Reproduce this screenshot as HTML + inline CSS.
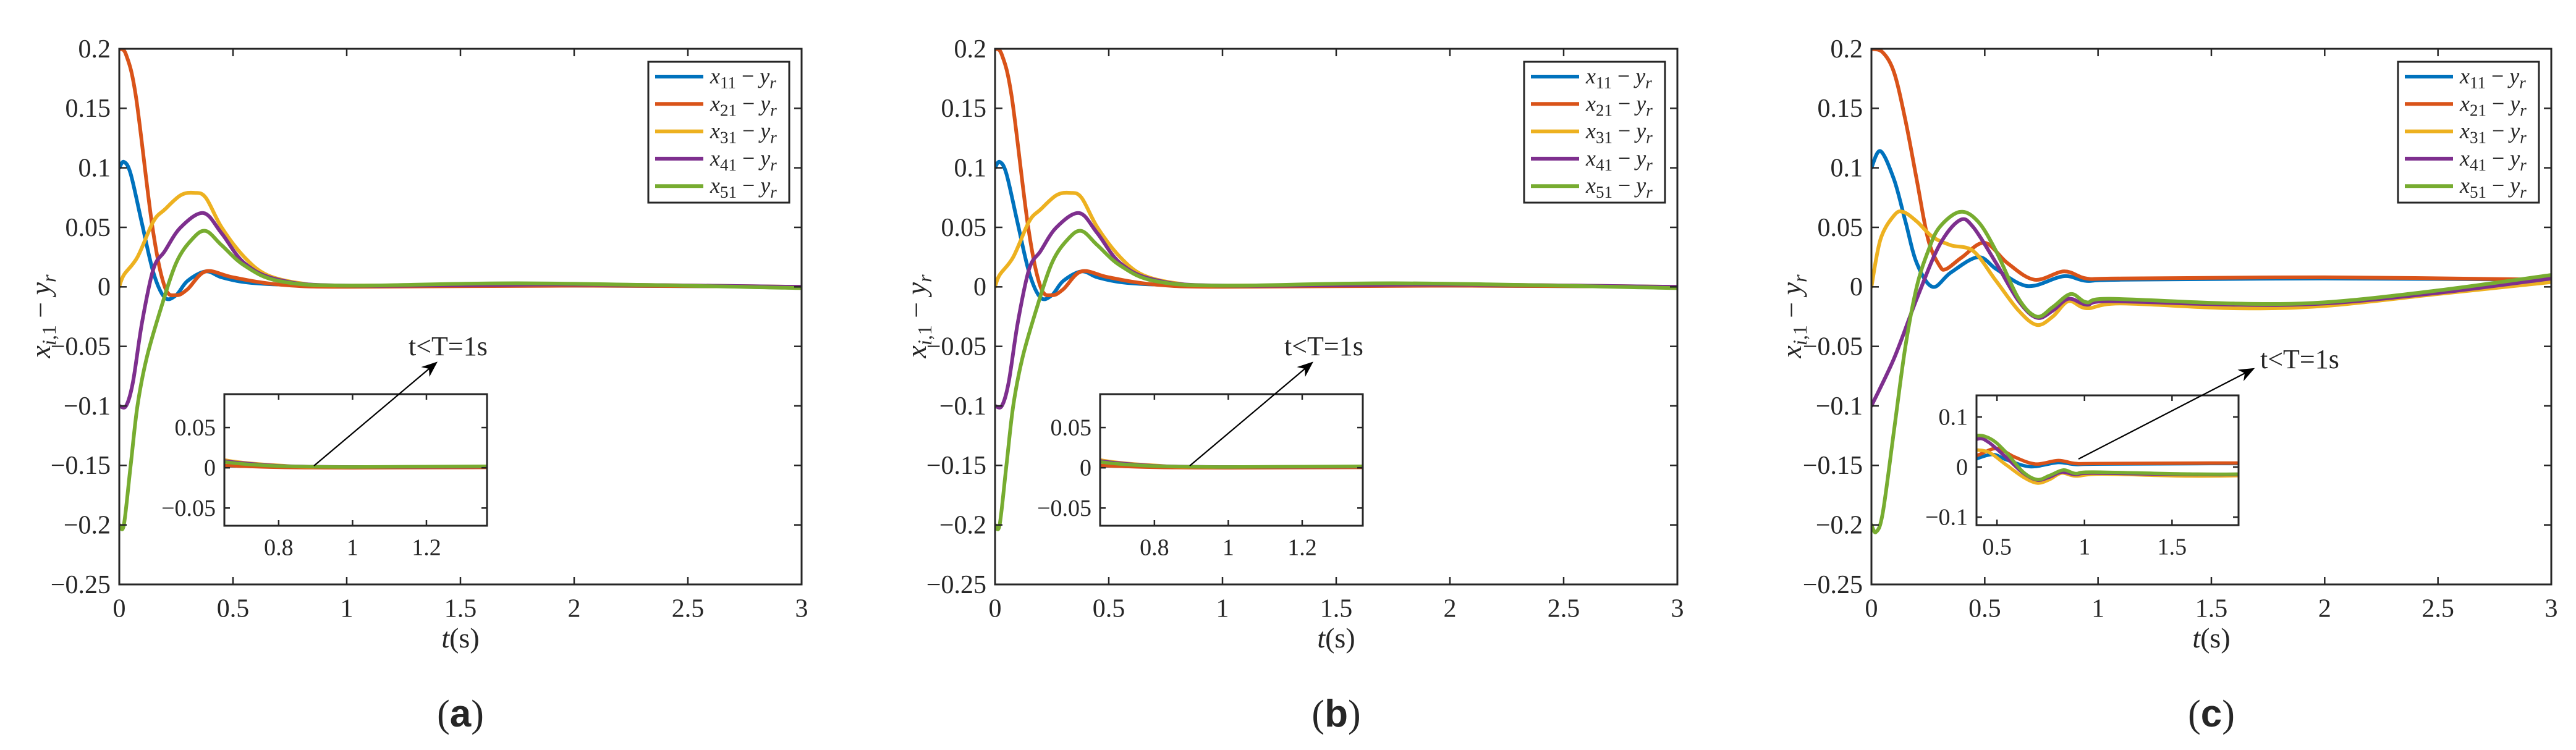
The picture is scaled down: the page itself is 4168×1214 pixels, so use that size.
<!DOCTYPE html>
<html><head><meta charset="utf-8"><style>
html,body{margin:0;padding:0;background:#fff;}
svg{display:block;}
text{font-family:"Liberation Serif","DejaVu Serif",serif;fill:#262626;}
</style></head><body>
<svg id="fig" width="4168" height="1214" viewBox="0 0 4168 1214" xmlns="http://www.w3.org/2000/svg"></svg>
<script>
// ---- data (panels a & b share data) ----
const seriesNames = ["x11","x21","x31","x41","x51"];
const seriesSubs = ["11","21","31","41","51"];
const seriesColors = ["#0072BD","#D95319","#EDB120","#7E2F8E","#77AC30"];
const yTicks = [0.2,0.15,0.1,0.05,0,-0.05,-0.1,-0.15,-0.2,-0.25];
const yTickLabels = ["0.2","0.15","0.1","0.05","0","\u22120.05","\u22120.1","\u22120.15","\u22120.2","\u22120.25"];
const xTicks = [0,0.5,1,1.5,2,2.5,3];
const xTickLabels = ["0","0.5","1","1.5","2","2.5","3"];

const aT1 = [0,0.02,0.05,0.1,0.15,0.2,0.25,0.3,0.38,0.45,0.55,0.7,1.0,2.0,3.0];
const aY1 = [0.1,0.105,0.095,0.053,0.012,-0.009,-0.007,0.005,0.013,0.008,0.004,0.002,0.001,0.001,0];
const aT2 = [0,0.03,0.073,0.146,0.2,0.25,0.3,0.38,0.5,0.7,1.0,2.0,3.0];
const aY2 = [0.2,0.195,0.16,0.05,0.0,-0.007,-0.002,0.013,0.008,0.002,0.0,0.001,0];
const aT3 = [0,0.02,0.08,0.15,0.2,0.27,0.33,0.38,0.45,0.55,0.65,0.8,1.0,2.0,3.0];
const aY3 = [0,0.01,0.025,0.055,0.065,0.077,0.079,0.075,0.05,0.025,0.01,0.003,0.001,0.002,0];
const aT4 = [0,0.03,0.06,0.1,0.15,0.2,0.27,0.37,0.45,0.55,0.7,1.0,2.0,3.0];
const aY4 = [-0.1,-0.1,-0.08,-0.03,0.015,0.03,0.05,0.062,0.045,0.02,0.006,0.001,0.002,0];
const aT5 = [0,0.02,0.05,0.08,0.12,0.18,0.25,0.32,0.38,0.45,0.55,0.7,1.0,1.8,3.0];
const aY5 = [-0.2,-0.2,-0.15,-0.1,-0.06,-0.02,0.02,0.04,0.047,0.035,0.018,0.005,0.001,0.003,-0.001];

const cT1 = [0,0.04,0.1,0.15,0.2,0.27,0.35,0.47,0.55,0.65,0.72,0.85,0.95,1.1,2.0,3.0];
const cY1 = [0.1,0.114,0.09,0.055,0.02,0.0,0.012,0.025,0.015,0.003,0.001,0.009,0.005,0.006,0.007,0.006];
const cT2 = [0,0.05,0.1,0.15,0.2,0.25,0.3,0.33,0.4,0.5,0.6,0.72,0.85,0.95,1.1,2.0,3.0];
const cY2 = [0.2,0.197,0.18,0.14,0.09,0.04,0.018,0.015,0.025,0.037,0.02,0.006,0.013,0.007,0.007,0.008,0.006];
const cT3 = [0,0.04,0.1,0.14,0.2,0.27,0.35,0.45,0.55,0.65,0.73,0.8,0.87,0.95,1.1,1.6,2.0,2.5,3.0];
const cY3 = [0,0.04,0.06,0.063,0.055,0.042,0.035,0.03,0.005,-0.02,-0.032,-0.025,-0.012,-0.018,-0.014,-0.018,-0.016,-0.006,0.004];
const cT4 = [0,0.1,0.2,0.3,0.39,0.45,0.55,0.65,0.73,0.8,0.87,0.95,1.05,1.6,2.0,2.5,3.0];
const cY4 = [-0.1,-0.06,-0.01,0.035,0.056,0.05,0.02,-0.012,-0.026,-0.02,-0.01,-0.015,-0.012,-0.015,-0.014,-0.005,0.007];
const cT5 = [0,0.02,0.05,0.1,0.15,0.2,0.25,0.3,0.39,0.47,0.55,0.65,0.73,0.8,0.88,0.95,1.05,1.6,2.0,2.5,3.0];
const cY5 = [-0.2,-0.206,-0.19,-0.12,-0.05,0.0,0.03,0.05,0.063,0.055,0.03,-0.01,-0.025,-0.017,-0.006,-0.013,-0.01,-0.014,-0.013,-0.003,0.01];

const dataAB = [[aT1,aY1],[aT2,aY2],[aT3,aY3],[aT4,aY4],[aT5,aY5]];
const dataC = [[cT1,cY1],[cT2,cY2],[cT3,cY3],[cT4,cY4],[cT5,cY5]];

const insetATicksX = [0.8,1,1.2];
const insetATickLabelsX = ["0.8","1","1.2"];
const insetATicksY = [0.05,0,-0.05];
const insetATickLabelsY = ["0.05","0","\u22120.05"];
const insetCTicksX = [0.5,1,1.5];
const insetCTickLabelsX = ["0.5","1","1.5"];
const insetCTicksY = [0.1,0,-0.1];
const insetCTickLabelsY = ["0.1","0","\u22120.1"];

// ---- drawing ----
const NS = "http://www.w3.org/2000/svg";
const svg = document.getElementById("fig");
function el(tag, attrs, parent){
  const e = document.createElementNS(NS, tag);
  for (const k in attrs) e.setAttribute(k, attrs[k]);
  (parent||svg).appendChild(e);
  return e;
}
function smoothPath(pts){
  let d = "M"+pts[0][0].toFixed(1)+","+pts[0][1].toFixed(1);
  for (let i=0;i<pts.length-1;i++){
    const p0=pts[Math.max(0,i-1)], p1=pts[i], p2=pts[i+1], p3=pts[Math.min(pts.length-1,i+2)];
    const c1x=p1[0]+(p2[0]-p0[0])/6, c1y=p1[1]+(p2[1]-p0[1])/6;
    const c2x=p2[0]-(p3[0]-p1[0])/6, c2y=p2[1]-(p3[1]-p1[1])/6;
    d+=" C"+c1x.toFixed(1)+","+c1y.toFixed(1)+" "+c2x.toFixed(1)+","+c2y.toFixed(1)+" "+p2[0].toFixed(1)+","+p2[1].toFixed(1);
  }
  return d;
}
let clipId = 0;
function drawAxes(g, box, xr, yr, xt, xtl, yt, ytl, lw, fs, tickLen, series, name){
  const sx = v => box.l + (v-xr[0])/(xr[1]-xr[0])*(box.r-box.l);
  const sy = v => box.t + (yr[1]-v)/(yr[1]-yr[0])*(box.b-box.t);
  const bg = el("rect",{x:box.l,y:box.t,width:box.r-box.l,height:box.b-box.t,fill:"#fff"},g);
  
  
  const cid = "clip"+(clipId++);
  const cp = el("clipPath",{id:cid},g);
  el("rect",{x:box.l,y:box.t,width:box.r-box.l,height:box.b-box.t},cp);
  const sg = el("g",{"clip-path":"url(#"+cid+")"},g);
  series.forEach((s,i)=>{
    const pts = s[0].map((t,j)=>[sx(t),sy(s[1][j])]);
    const p = el("path",{d:smoothPath(pts),fill:"none",stroke:seriesColors[i],"stroke-width":lw,"stroke-linejoin":"round","stroke-linecap":"round"},sg);
    
    
  });
  xt.forEach((v,i)=>{
    const x=sx(v);
    el("line",{x1:x,y1:box.b,x2:x,y2:box.b-tickLen,stroke:"#262626","stroke-width":2.5},g);
    el("line",{x1:x,y1:box.t,x2:x,y2:box.t+tickLen,stroke:"#262626","stroke-width":2.5},g);
    const t = el("text",{x:x,y:box.b+fs*1.25,"font-size":fs,"text-anchor":"middle"},g);
    t.textContent = xtl[i];
    
    
  });
  yt.forEach((v,i)=>{
    const y=sy(v);
    el("line",{x1:box.l,y1:y,x2:box.l+tickLen,y2:y,stroke:"#262626","stroke-width":2.5},g);
    el("line",{x1:box.r,y1:y,x2:box.r-tickLen,y2:y,stroke:"#262626","stroke-width":2.5},g);
    const t = el("text",{x:box.l-14,y:y+fs*0.33,"font-size":fs,"text-anchor":"end"},g);
    t.textContent = ytl[i];
    
    
  });
  const fr = el("rect",{x:box.l,y:box.t,width:box.r-box.l,height:box.b-box.t,fill:"none",stroke:"#262626","stroke-width":3},g);
  
  
}

const panels = [
  {id:"a", l:193, r:1297, data:dataAB, inset:{l:363,r:788,t:638,b:851,xr:[0.653,1.364],yr:[-0.072,0.0915],xt:insetATicksX,xtl:insetATickLabelsX,yt:insetATicksY,ytl:insetATickLabelsY},
   ann:{tx:661,ty:575,x1:508,y1:754,x2:706,y2:587}, ylab:67, label:"a"},
  {id:"b", l:1610, r:2714, data:dataAB, inset:{l:1780,r:2205,t:638,b:851,xr:[0.653,1.364],yr:[-0.072,0.0915],xt:insetATicksX,xtl:insetATickLabelsX,yt:insetATicksY,ytl:insetATickLabelsY},
   ann:{tx:2078,ty:575,x1:1925,y1:754,x2:2123,y2:587}, ylab:1484, label:"b"},
  {id:"c", l:3028, r:4128, data:dataC, inset:{l:3198,r:3622,t:640,b:850,xr:[0.383,1.88],yr:[-0.116,0.143],xt:insetCTicksX,xtl:insetCTickLabelsX,yt:insetCTicksY,ytl:insetCTickLabelsY},
   ann:{tx:3657,ty:596,x1:3363,y1:743,x2:3646,y2:597}, ylab:2900, label:"c"}
];

const defs = el("defs",{});
const mk = el("marker",{id:"arrow",refX:9,refY:5,orient:"auto",markerUnits:"userSpaceOnUse"},defs);
mk.setAttribute("viewBox","0 0 10 10");
mk.setAttribute("markerWidth","26"); mk.setAttribute("markerHeight","26");
el("path",{d:"M0,1 L10,5 L0,9 L3,5 Z",fill:"#000"},mk);

panels.forEach(P=>{
  const g = el("g",{});
  
  
  const box = {l:P.l, r:P.r, t:79, b:946};
  drawAxes(g, box, [0,3], [-0.25,0.2], xTicks, xTickLabels, yTicks, yTickLabels, 6, 42, 12, P.data, 'panel-'+P.id+'-main');
  const ig = el("g",{},g);
  
  
  const I = P.inset;
  drawAxes(ig, {l:I.l,r:I.r,t:I.t,b:I.b}, I.xr, I.yr, I.xt, I.xtl, I.yt, I.ytl, 5.5, 38, 9, P.data, 'panel-'+P.id+'-inset');
  const ar = el("line",{x1:P.ann.x1,y1:P.ann.y1,x2:P.ann.x2,y2:P.ann.y2,stroke:"#000","stroke-width":2.2,"marker-end":"url(#arrow)"},g);
  
  
  const at = el("text",{x:P.ann.tx,y:P.ann.ty,"font-size":44,fill:"#000"},g);
  at.textContent = "t<T=1s";
  
  
  const lw = 228, lx = P.r-248, ly = 100;
  const lg = el("g",{},g);
  
  
  el("rect",{x:lx,y:ly,width:lw,height:228,fill:"#fff",stroke:"#262626","stroke-width":3},lg);
  seriesNames.forEach((n,i)=>{
    const y = 124 + i*44.3;
    const e = el("g",{},lg);
    
    
    el("line",{x1:lx+11,y1:y,x2:lx+89,y2:y,stroke:seriesColors[i],"stroke-width":6},e);
    const t = el("text",{x:lx+100,y:y+11,"font-size":36},e);
    t.innerHTML = '<tspan font-style="italic">x</tspan><tspan font-size="27" dy="8">'+seriesSubs[i]+'</tspan><tspan dy="-8"> \u2212 </tspan><tspan font-style="italic">y</tspan><tspan font-size="27" font-style="italic" dy="8">r</tspan>';
  });
  const xl = el("text",{x:(P.l+P.r)/2,y:1048,"font-size":46,"text-anchor":"middle"},g);
  xl.innerHTML = '<tspan font-style="italic">t</tspan>(s)';
  
  
  const yl = el("text",{x:0,y:0,"font-size":46,"text-anchor":"middle",transform:"translate("+(P.ylab+14)+",512) rotate(-90)"},g);
  yl.innerHTML = '<tspan font-style="italic">x</tspan><tspan font-size="32" font-style="italic" dy="9">i</tspan><tspan font-size="32" dy="0">,1</tspan><tspan dy="-9"> \u2212 </tspan><tspan font-style="italic">y</tspan><tspan font-size="32" font-style="italic" dy="9">r</tspan>';
  
  
  const sl = el("text",{x:(P.l+P.r)/2,y:1176,"font-size":62,"text-anchor":"middle",fill:"#000"},g);
  sl.innerHTML = '(<tspan font-weight="bold" font-family="Liberation Sans, sans-serif">'+P.label+'</tspan>)';
  
  
});
</script>
</body></html>
